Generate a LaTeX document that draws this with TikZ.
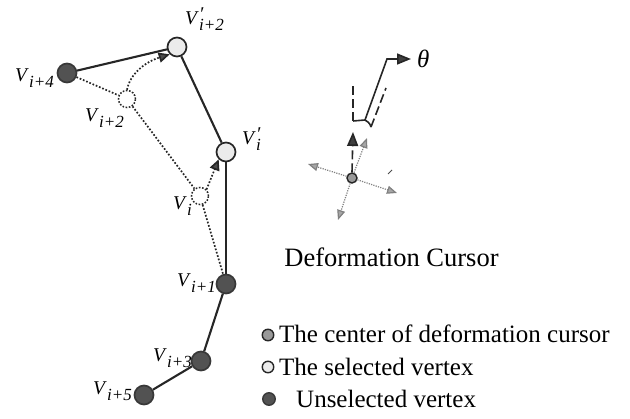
\documentclass[tikz,border=0pt]{standalone}
\usepackage{fontspec}
\setmainfont{Liberation Serif}
\usetikzlibrary{arrows.meta}
\newcommand{\Vl}[1]{\textit{V}\kern0.01em\raisebox{-5.5pt}{\fontsize{17}{17}\selectfont\textit{#1}}}
\newcommand{\Vp}[1]{\textit{V}\kern0.01em\makebox[0pt][l]{\raisebox{4pt}{\textit{′}}}\raisebox{-6pt}{\fontsize{17}{17}\selectfont\textit{#1}}}
\tikzset{
  vtx/.style={circle, minimum size=19pt, inner sep=0pt, line width=1.7pt},
  unsel/.style={vtx, draw=black!78, fill=black!68},
  sel/.style={vtx, draw=black!85, fill=black!8},
  old/.style={vtx, line width=1.5pt, draw=black!85, dash pattern=on 1.6pt off 1.6pt, fill=white, minimum size=17pt},
  solidedge/.style={line width=2.1pt, draw=black!85},
  dotedge/.style={line width=1.7pt, dash pattern=on 1.7pt off 1.8pt, draw=black!85},
  movearrow/.style={dotedge, -{Triangle[length=11pt,width=10pt,fill=black!70]}},
  lab/.style={font=\fontsize{19.5}{19.5}\selectfont, inner sep=0pt, anchor=base west},
  legtext/.style={font=\fontsize{25}{25}\selectfont, inner sep=0pt, anchor=base west},
  grayarrow/.style={line width=1.2pt, dash pattern=on 1.2pt off 1.2pt, draw=black!50, -{Triangle[length=10pt,width=8pt,fill=black!35]}},
  legdot/.style={circle, minimum size=11.5pt, inner sep=0pt, line width=1.4pt},
  cursorline/.style={line width=1.6pt, draw=black!85},
  cursordash/.style={cursorline, dash pattern=on 9pt off 4pt},
}
\begin{document}
\begin{tikzpicture}[x=1pt,y=-1pt]
\useasboundingbox (0,0) rectangle (630,419);
% vertices
\node[unsel] (v4) at (67,73) {};
\node[sel] (v2p) at (177,47) {};
\node[old] (v2) at (127,99) {};
\node[sel] (vip) at (226,152) {};
\node[old] (vi) at (200,196) {};
\node[unsel] (v1) at (226,284) {};
\node[unsel] (v3) at (201,361) {};
\node[unsel] (v5) at (144,395) {};
% solid polyline
\draw[solidedge] (v4) -- (v2p);
\draw[solidedge] (v2p) -- (vip);
\draw[solidedge] (vip) -- (v1);
\draw[solidedge] (v1) -- (v3);
\draw[solidedge] (v3) -- (v5);
% old dotted polyline
\draw[dotedge] (v4) -- (v2);
\draw[dotedge] (v2) -- (vi);
\draw[dotedge] (vi) -- (v1);
% movement arrows
\draw[movearrow] (v2.north) .. controls (130,74) and (145,62) .. (v2p.south west);
\draw[movearrow] (vi.north east) -- (vip.south west);
% labels
\node[lab] (l4) at (15,82) {\Vl{i+4}};
\node[lab] (l2p) at (185,25) {\Vp{i+2}};
\node[lab] (l2) at (85,122) {\Vl{i+2}};
\node[lab] (lip) at (242,145) {\Vp{i}};
\node[lab] (li) at (173,210) {\Vl{i}};
\node[lab] (l1) at (177,287) {\Vl{i+1}};
\node[lab] (l3) at (153,362) {\Vl{i+3}};
\node[lab] (l5) at (93,395) {\Vl{i+5}};
% deformation cursor
\node[circle, minimum size=10pt, inner sep=0pt, line width=1.4pt, draw=black!85, fill=black!40] (c) at (352,178) {};
\coordinate (vtop) at (353,83);
\coordinate (vbr) at (353,121);
\coordinate (aht) at (353,132);
\coordinate (tbr) at (371,127);
\coordinate (ttop) at (386,88);
\coordinate (sbot) at (365,120);
\coordinate (scorner) at (387,59);
\coordinate (ur) at (367,138);
\coordinate (ul) at (308,164);
\coordinate (lr) at (397,193);
\coordinate (ll) at (338,220);
\draw[cursordash, -{Triangle[length=14pt,width=11pt,fill=black!75]}] (c.north) -- (aht);
\draw[cursordash] (vbr) -- (vtop);
\draw[cursordash] (tbr) -- (ttop);
\draw[cursorline] (vbr) -- (sbot) .. controls (367,121) and (370,123) .. (tbr);
\node[inner sep=0pt, font=\fontsize{25}{25}\selectfont\itshape, anchor=west] (theta) at (417,59) {θ};
\draw[cursorline, -{Triangle[length=14pt,width=11pt,fill=black!75]}] (sbot) -- (scorner) -- ([xshift=-6pt]theta.west);
\draw[grayarrow] (c) -- (ur);
\draw[grayarrow] (c) -- (ul);
\draw[grayarrow] (c) -- (lr);
\draw[grayarrow] (c) -- (ll);
\coordinate (tk1) at (388,174);
\coordinate (tk2) at (392,170);
\draw[line width=0.8pt, black!70] (tk1) -- (tk2);
\node[font=\fontsize{26.5}{26.5}\selectfont, inner sep=0pt, anchor=base] (dc) at (391.5,267) {Deformation Cursor};
% legend
\node[legdot, draw=black!85, fill=black!40] (d1) at (268,335) {};
\node[legdot, draw=black!85, fill=black!8] (d2) at (268,367) {};
\node[legdot, draw=black!78, fill=black!68, minimum size=12.5pt] (d3) at (269,399) {};
\node[legtext] (t1) at (279,343) {The center of deformation cursor};
\node[legtext] (t2) at (279,376) {The selected vertex};
\node[legtext] (t3) at (296,408) {Unselected vertex};
\end{tikzpicture}
\end{document}
